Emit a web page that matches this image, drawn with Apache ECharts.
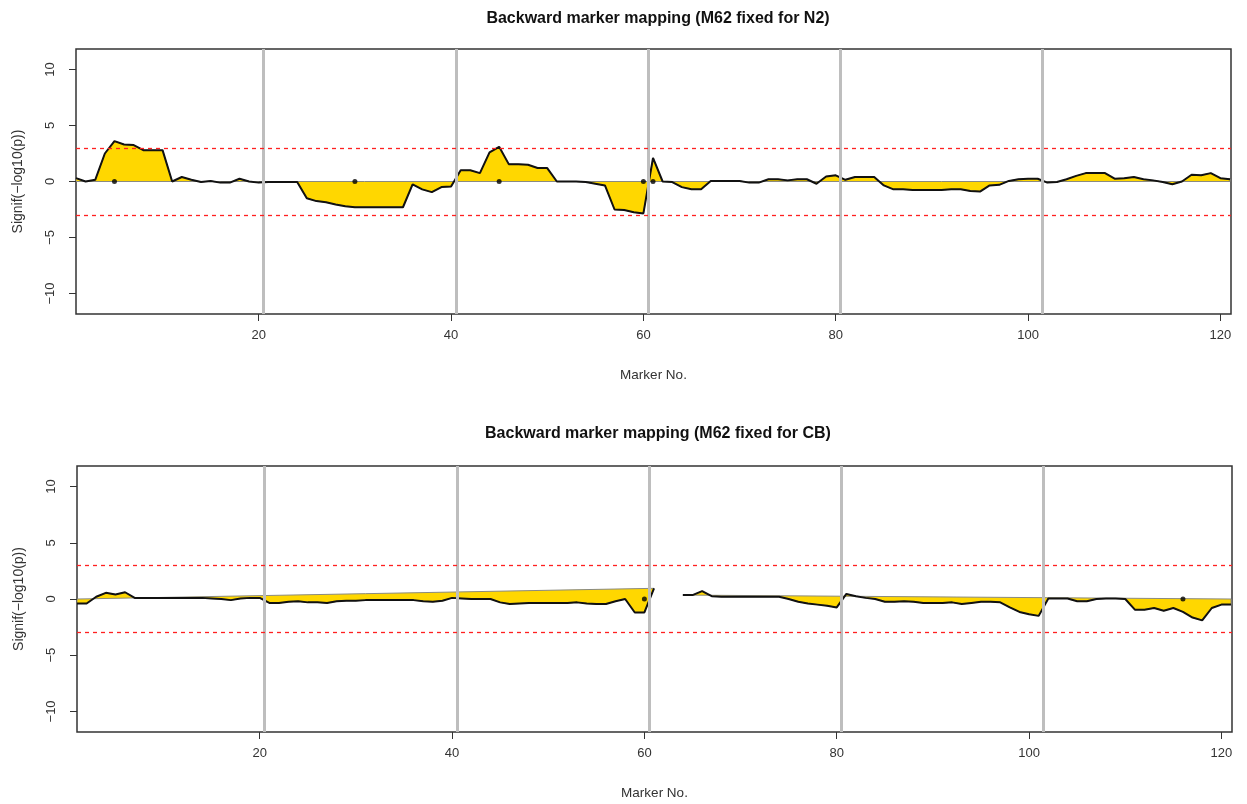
<!DOCTYPE html>
<html>
<head>
<meta charset="utf-8">
<script src="https://cdn.jsdelivr.net/npm/echarts@6/dist/echarts.min.js"></script>
<style>
html, body { margin: 0; padding: 0; background: #fff; }
#chart { width: 1247px; height: 804px; }
</style>
</head>
<body>
<div id="chart"></div>
<script>
// marker numbers 1..121
const markers = [
  1, 2, 3, 4, 5, 6, 7, 8, 9, 10, 11, 12, 13, 14, 15, 16, 17, 18, 19, 20,
  21, 22, 23, 24, 25, 26, 27, 28, 29, 30, 31, 32, 33, 34, 35, 36, 37, 38, 39, 40,
  41, 42, 43, 44, 45, 46, 47, 48, 49, 50, 51, 52, 53, 54, 55, 56, 57, 58, 59, 60,
  61, 62, 63, 64, 65, 66, 67, 68, 69, 70, 71, 72, 73, 74, 75, 76, 77, 78, 79, 80,
  81, 82, 83, 84, 85, 86, 87, 88, 89, 90, 91, 92, 93, 94, 95, 96, 97, 98, 99, 100,
  101, 102, 103, 104, 105, 106, 107, 108, 109, 110, 111, 112, 113, 114, 115, 116, 117, 118, 119, 120,
  121
];

// signed -log10(p), M62 fixed for N2
const signifN2 = [
  0.3, 0.0, 0.15, 2.5, 3.6, 3.3, 3.25, 2.8, 2.8, 2.8,
  0.0, 0.4, 0.15, -0.05, 0.05, -0.1, -0.1, 0.25, 0.0, -0.1,
  -0.05, -0.05, -0.05, -0.05, -1.5, -1.75, -1.85, -2.05, -2.2, -2.3,
  -2.3, -2.3, -2.3, -2.3, -2.3, -0.25, -0.7, -0.95, -0.5, -0.45,
  1.0, 1.0, 0.75, 2.6, 3.1, 1.55, 1.55, 1.5, 1.2, 1.2,
  0.0, 0.0, 0.0, -0.05, -0.2, -0.35, -2.5, -2.55, -2.75, -2.85,
  2.1, 0.0, -0.05, -0.5, -0.7, -0.7, 0.05, 0.05, 0.05, 0.05,
  -0.1, -0.1, 0.2, 0.2, 0.1, 0.2, 0.2, -0.2, 0.45, 0.55,
  0.15, 0.4, 0.4, 0.4, -0.35, -0.7, -0.7, -0.75, -0.75, -0.75,
  -0.75, -0.7, -0.7, -0.85, -0.9, -0.35, -0.3, 0.05, 0.2, 0.25,
  0.25, -0.1, -0.05, 0.2, 0.5, 0.75, 0.75, 0.75, 0.25, 0.3,
  0.4, 0.2, 0.1, -0.05, -0.25, 0.0, 0.6, 0.55, 0.75, 0.3,
  0.2
];

// signed -log10(p), M62 fixed for CB (62, 63 missing)
const signifCB = [
  -0.4, -0.4, 0.2, 0.55, 0.4, 0.6, 0.1, 0.1, 0.1, 0.1,
  0.1, 0.1, 0.1, 0.1, 0.05, 0.0, -0.1, 0.05, 0.1, 0.1,
  -0.35, -0.35, -0.25, -0.2, -0.3, -0.3, -0.35, -0.2, -0.15, -0.15,
  -0.1, -0.1, -0.1, -0.1, -0.1, -0.1, -0.2, -0.25, -0.15, 0.1,
  0.05, 0.0, 0.0, 0.0, -0.3, -0.45, -0.4, -0.35, -0.35, -0.35,
  -0.35, -0.35, -0.3, -0.4, -0.45, -0.45, -0.2, 0.0, -1.2, -1.2,
  0.95, null, null, 0.35, 0.35, 0.7, 0.25, 0.2, 0.2, 0.2,
  0.2, 0.2, 0.2, 0.2, 0.0, -0.25, -0.4, -0.5, -0.6, -0.75,
  0.45, 0.25, 0.1, 0.0, -0.25, -0.25, -0.2, -0.25, -0.35, -0.35,
  -0.35, -0.3, -0.45, -0.35, -0.25, -0.25, -0.3, -0.75, -1.15, -1.35,
  -1.5, 0.05, 0.05, 0.05, -0.2, -0.2, 0.0, 0.05, 0.05, 0.0,
  -0.95, -0.95, -0.8, -1.05, -0.8, -1.15, -1.65, -1.9, -0.8, -0.5,
  -0.5
];

// fixed / selected markers drawn as dots on the zero line
const dotsN2 = [5, 30, 45, 60, 61];
const dotsCB = [60, 116];

// chromosome boundaries and significance threshold
const chromBreaks = [20.5, 40.5, 60.5, 80.5, 101.5];
const threshold = [3, -3];
const yTicks = [-10, -5, 0, 5, 10];
const xTicks = [20, 40, 60, 80, 100, 120];

const titles = [
  'Backward marker mapping (M62 fixed for N2)',
  'Backward marker mapping (M62 fixed for CB)'
];

// same as R polygon(c(x1, x, xn), c(0, y, 0)): NA splits the polygon
function rPolygons(xs, ys) {
  const vx = [xs[0]].concat(xs, [xs[xs.length - 1]]);
  const vy = [0].concat(ys, [0]);
  const out = [];
  let cur = [];
  vx.forEach((x, i) => {
    if (vy[i] == null) {
      if (cur.length) out.push(cur);
      cur = [];
    } else {
      cur.push([x, vy[i]]);
    }
  });
  if (cur.length) out.push(cur);
  return out;
}

const font = 'Liberation Sans, Arial, sans-serif';
const fmtMinus = v => (v < 0 ? '\u2212' + Math.abs(v) : String(v));

const chart = echarts.init(document.getElementById('chart'));

const grids = [
  { left: 76, top: 49, width: 1155, height: 265 },
  { left: 77, top: 466, width: 1155, height: 266 }
];

function panelSeries(idx, vals, dots) {
  const polys = rPolygons(markers, vals);
  return [
    {
      type: 'custom',
      xAxisIndex: idx, yAxisIndex: idx,
      z: 1,
      silent: true,
      clip: true,
      data: polys.map((p, i) => [p[0][0], p[0][1], i]),
      renderItem: (params, api) => ({
        type: 'polygon',
        shape: { points: polys[params.dataIndex].map(p => api.coord(p)) },
        style: { fill: '#FFD700', stroke: '#8a8a80', lineWidth: 1 }
      })
    },
    {
      type: 'line',
      xAxisIndex: idx, yAxisIndex: idx,
      z: 2,
      silent: true,
      data: [],
      markLine: {
        silent: true,
        symbol: 'none',
        label: { show: false },
        data: chromBreaks.map(x => ({
          xAxis: x,
          lineStyle: { color: '#bebebe', width: 3, type: 'solid' }
        })).concat(threshold.map(y => ({
          yAxis: y,
          lineStyle: { color: '#ff2020', width: 1.3, type: [4, 4] }
        })))
      }
    },
    {
      type: 'line',
      xAxisIndex: idx, yAxisIndex: idx,
      z: 3,
      silent: true,
      showSymbol: false,
      connectNulls: false,
      lineStyle: { color: '#111', width: 2 },
      data: markers.map((m, i) => [m, vals[i] == null ? '-' : vals[i]])
    },
    {
      type: 'scatter',
      xAxisIndex: idx, yAxisIndex: idx,
      z: 4,
      silent: true,
      symbolSize: 5,
      itemStyle: { color: '#000' },
      data: dots.map(m => [m, 0])
    }
  ];
}

const option = {
  animation: false,
  backgroundColor: '#fff',
  title: titles.map((t, i) => ({
    text: t,
    left: 653,
    textAlign: 'center',
    top: i === 0 ? 6 : 421,
    textStyle: { fontFamily: font, fontWeight: 'bold', fontSize: 16, color: '#111' }
  })),
  grid: grids.map(g => Object.assign({
    show: true, borderColor: '#333', borderWidth: 1.5, backgroundColor: 'transparent'
  }, g)),
  xAxis: [0, 1].map(i => ({
    type: 'value',
    gridIndex: i,
    min: 1,
    max: 121.1,
    name: 'Marker No.',
    nameLocation: 'middle',
    nameGap: 54,
    nameTextStyle: { fontFamily: font, fontSize: 13.5, color: '#333' },
    axisLine: { show: false, onZero: false },
    splitLine: { show: false },
    axisTick: { show: true, length: 7, customValues: xTicks, lineStyle: { color: '#333', width: 1 } },
    axisLabel: { customValues: xTicks, margin: 15, fontFamily: font, fontSize: 13, color: '#333' }
  })),
  yAxis: [0, 1].map(i => ({
    type: 'value',
    gridIndex: i,
    min: -11.83,
    max: 11.83,
    name: 'Signif(\u2212log10(p))',
    nameLocation: 'middle',
    nameRotate: 90,
    nameGap: 51,
    nameTextStyle: { fontFamily: font, fontSize: 14, color: '#333' },
    axisLine: { show: false, onZero: false },
    splitLine: { show: false },
    axisTick: { show: true, length: 7, customValues: yTicks, lineStyle: { color: '#333', width: 1 } },
    axisLabel: {
      customValues: yTicks, rotate: 90, margin: 19,
      fontFamily: font, fontSize: 13, color: '#333',
      formatter: fmtMinus
    }
  })),
  series: panelSeries(0, signifN2, dotsN2).concat(panelSeries(1, signifCB, dotsCB))
};

chart.setOption(option);
</script>
</body>
</html>
